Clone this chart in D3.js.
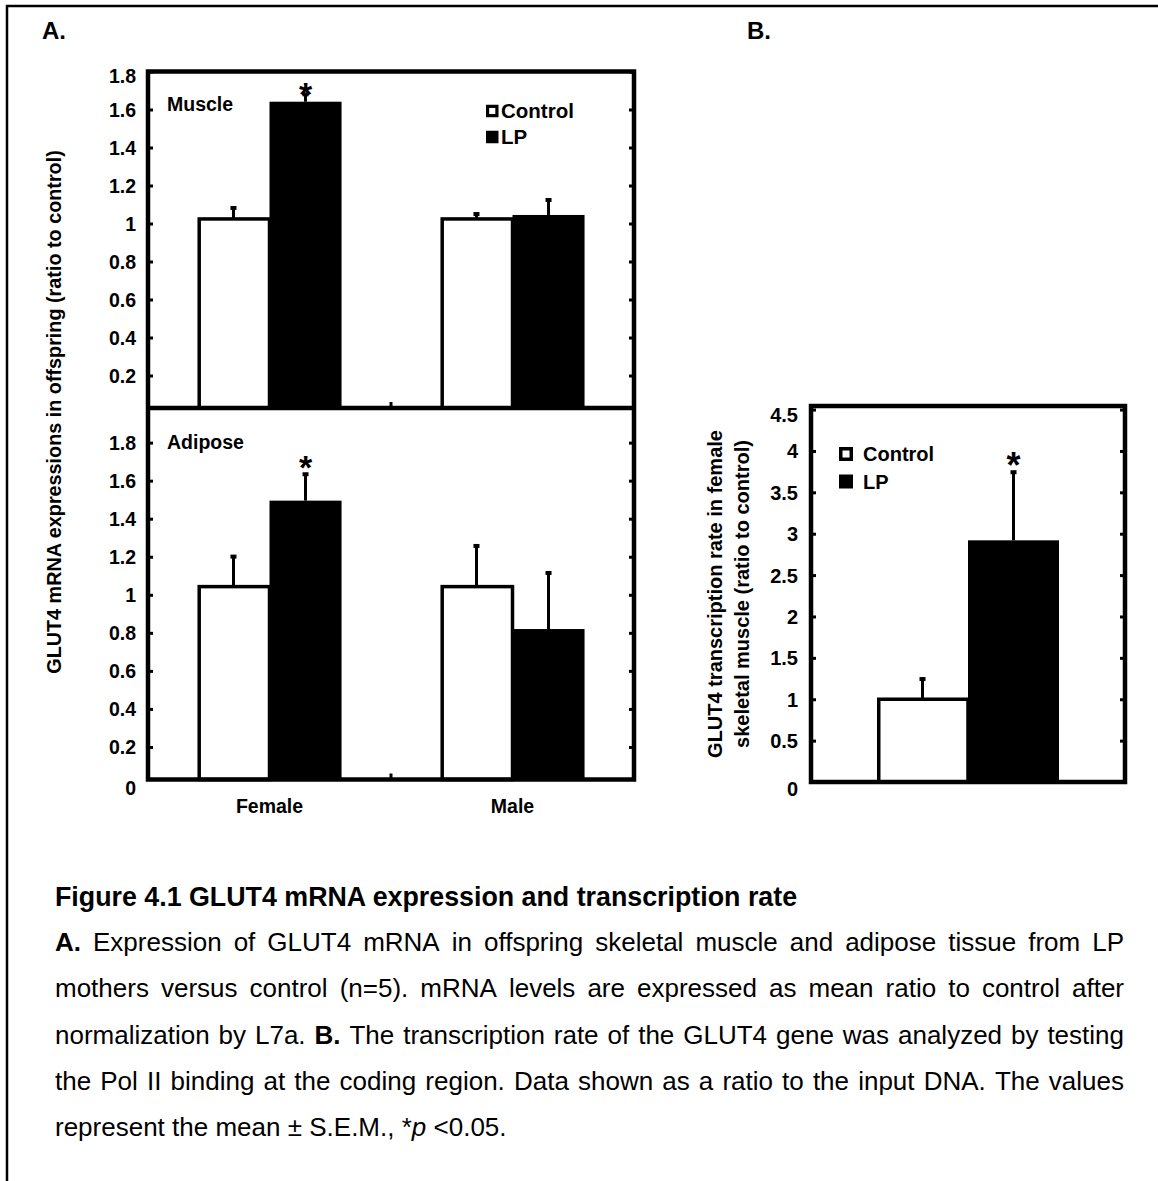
<!DOCTYPE html>
<html><head><meta charset="utf-8">
<script src="https://cdn.jsdelivr.net/npm/d3@7"></script>
<style>
body{margin:0;background:#fff}
svg{display:block}
text{font-family:"Liberation Sans",Arial,Helvetica,sans-serif;fill:#000}
</style>
</head><body>
<svg id="c" width="1158" height="1181"></svg>
<script>
// ---------------- DATA ----------------
const categories = ["Female", "Male"];
const groups = ["Control", "LP"];

const muscleControl = [1.024, 1.024];
const muscleControlSem = [0.063, 0.031];
const muscleLP = [1.641, 1.045];
const muscleLPSem = [0.044, 0.084];
const muscleSig = [true, false];

const adiposeControl = [1.043, 1.043];
const adiposeControlSem = [0.163, 0.219];
const adiposeLP = [1.495, 0.82];
const adiposeLPSem = [0.144, 0.30];
const adiposeSig = [true, false];

const muscleTicks = [0.2, 0.4, 0.6, 0.8, 1, 1.2, 1.4, 1.6, 1.8];
const adiposeTicks = [0, 0.2, 0.4, 0.6, 0.8, 1, 1.2, 1.4, 1.6, 1.8];

const bCategories = ["Female skeletal muscle"];
const bControl = [1.0];
const bControlSem = [0.256];
const bLP = [2.92];
const bLPSem = [0.835];
const bSig = [true];
const bTicks = [0, 0.5, 1, 1.5, 2, 2.5, 3, 3.5, 4, 4.5];

const yTitleA = "GLUT4 mRNA expressions in offspring (ratio to control)";
const yTitleB = ["GLUT4 transcription rate in female", "skeletal muscle (ratio to control)"];
const panelLabels = ["A.", "B."];
const subLabels = ["Muscle", "Adipose"];

const captionTitle = "Figure 4.1 GLUT4 mRNA expression and transcription rate";
const captionLines = [
  "<b>A.</b> Expression of GLUT4 mRNA in offspring skeletal muscle and adipose tissue from LP",
  "mothers versus control (n=5). mRNA levels are expressed as mean ratio to control after",
  "normalization by L7a. <b>B.</b> The transcription rate of the GLUT4 gene was analyzed by testing",
  "the Pol II binding at the coding region. Data shown as a ratio to the input DNA. The values",
  "represent the mean ± S.E.M., *<i>p</i> <0.05."
];

// ---------------- DRAW ----------------
const svg = d3.select("#c");
svg.append("rect").attr("width", 1158).attr("height", 1181).attr("fill", "#fff");

// outer page frame (top and left)
svg.append("path").attr("d", "M7,1181V6H1158").attr("fill", "none")
  .attr("stroke", "#000").attr("stroke-width", 2.5);

// panel letters
svg.append("text").attr("x", 42).attr("y", 39).attr("font-size", 24).attr("font-weight", "bold").text(panelLabels[0]);
svg.append("text").attr("x", 747).attr("y", 39).attr("font-size", 24).attr("font-weight", "bold").text(panelLabels[1]);

const FS = 19.5;
const A = {x0: 148, x1: 634, top: 71.5, mid: 408, bottom: 779.5};

const xA = d3.scaleBand().domain(categories).range([A.x0, A.x1]).paddingInner(0.407).paddingOuter(0.2035);
const xgA = d3.scaleBand().domain(groups).range([0, xA.bandwidth()]);

const yMuscle = d3.scaleLinear().domain([0.029, 1.8]).range([A.mid, A.top]).clamp(true);
const yAdipose = d3.scaleLinear().domain([0.029, 1.982]).range([A.bottom, A.mid]).clamp(true);

function drawBars(g, xs, xg, cats, y, ctrl, ctrlSem, lp, lpSem, sig, topLimit, starFs) {
  const base = y.range()[0];
  const rows = cats.map((c, i) => [
    {cat: c, grp: "Control", v: ctrl[i], s: ctrlSem[i]},
    {cat: c, grp: "LP", v: lp[i], s: lpSem[i], sig: sig[i]}
  ]).flat();
  g.selectAll(null).data(rows).enter().append("rect")
    .attr("x", d => xs(d.cat) + xg(d.grp) + (d.grp === "Control" ? 1.75 : 0))
    .attr("width", d => xg.bandwidth() - (d.grp === "Control" ? 1.75 : 0))
    .attr("y", d => y(d.v))
    .attr("height", d => base - y(d.v))
    .attr("fill", d => d.grp === "Control" ? "#fff" : "#000")
    .attr("stroke", "#000").attr("stroke-width", d => d.grp === "Control" ? 3.5 : 0);
  const cx = d => xs(d.cat) + xg(d.grp) + xg.bandwidth() / 2;
  g.selectAll(null).data(rows).enter().append("line")
    .attr("x1", cx).attr("x2", cx)
    .attr("y1", d => y(d.v)).attr("y2", d => y(d.v + d.s))
    .attr("stroke", "#000").attr("stroke-width", 3);
  g.selectAll(null).data(rows).enter().append("rect")
    .attr("x", d => cx(d) - 3).attr("width", 6)
    .attr("y", d => y(d.v + d.s) - 1).attr("height", 4)
    .attr("fill", "#000");
  g.selectAll(null).data(rows.filter(d => d.sig)).enter().append("text")
    .attr("x", cx)
    .attr("y", d => Math.max(y(d.v + d.s) - 14, topLimit + 15) + starFs * 0.57)
    .attr("text-anchor", "middle").attr("font-size", starFs).attr("font-weight", "bold")
    .text("*");
}

const gA = svg.append("g");
drawBars(gA, xA, xgA, categories, yMuscle, muscleControl, muscleControlSem, muscleLP, muscleLPSem, muscleSig, A.top, 34);
drawBars(gA, xA, xgA, categories, yAdipose, adiposeControl, adiposeControlSem, adiposeLP, adiposeLPSem, adiposeSig, A.mid, 34);

function styleAxis(sel, fs, shiftFn) {
  sel.select(".domain").remove();
  sel.selectAll(".tick line").attr("stroke", "#000").attr("stroke-width", 3);
  sel.selectAll(".tick text").attr("font-size", fs).attr("font-weight", "bold")
    .attr("font-family", '"Liberation Sans",Arial,sans-serif').attr("fill", "#000")
    .attr("dy", d => (0.35 * fs + shiftFn(d)) + "px");
}
const axMuscle = gA.append("g").attr("transform", `translate(${A.x0},0)`)
  .call(d3.axisLeft(yMuscle).tickValues(muscleTicks).tickSizeInner(-5).tickSizeOuter(0).tickPadding(12).tickFormat(d => String(d)));
styleAxis(axMuscle, FS, d => d === 1.8 ? 4 : 0);
const axAdipose = gA.append("g").attr("transform", `translate(${A.x0},0)`)
  .call(d3.axisLeft(yAdipose).tickValues(adiposeTicks).tickSizeInner(-5).tickSizeOuter(0).tickPadding(12).tickFormat(d => String(d)));
styleAxis(axAdipose, FS, d => d === 0 ? 8.5 : 0);
axAdipose.selectAll(".tick line").filter(d => d === 0).remove();

gA.append("g").attr("transform", `translate(${A.x1},0)`)
  .call(d3.axisRight(yMuscle).tickValues(muscleTicks).tickSizeInner(-5).tickSizeOuter(0).tickFormat(""))
  .call(s => { s.select(".domain").remove(); s.selectAll(".tick line").attr("stroke-width", 3); });
gA.append("g").attr("transform", `translate(${A.x1},0)`)
  .call(d3.axisRight(yAdipose).tickValues(adiposeTicks.filter(d => d > 0)).tickSizeInner(-5).tickSizeOuter(0).tickFormat(""))
  .call(s => { s.select(".domain").remove(); s.selectAll(".tick line").attr("stroke-width", 3); });

const sepX = (xA(categories[0]) + xA.bandwidth() + xA(categories[1])) / 2;
[A.mid, A.bottom].forEach(yy => {
  gA.append("line").attr("x1", sepX).attr("x2", sepX).attr("y1", yy).attr("y2", yy - 6)
    .attr("stroke", "#000").attr("stroke-width", 3);
});

gA.append("rect").attr("x", A.x0).attr("y", A.top).attr("width", A.x1 - A.x0).attr("height", A.bottom - A.top)
  .attr("fill", "none").attr("stroke", "#000").attr("stroke-width", 4.5);
gA.append("line").attr("x1", A.x0).attr("x2", A.x1).attr("y1", A.mid).attr("y2", A.mid)
  .attr("stroke", "#000").attr("stroke-width", 4.5);

gA.selectAll(null).data(categories).enter().append("text")
  .attr("x", d => xA(d) + xA.bandwidth() / 2).attr("y", 813)
  .attr("text-anchor", "middle").attr("font-size", FS).attr("font-weight", "bold").text(d => d);

gA.append("text").attr("x", 167).attr("y", 111).attr("font-size", FS).attr("font-weight", "bold").text(subLabels[0]);
gA.append("text").attr("x", 167).attr("y", 449).attr("font-size", FS).attr("font-weight", "bold").text(subLabels[1]);

function legend(g, x, ys, size, fs, tx, sw) {
  groups.forEach((grp, i) => {
    if (grp === "Control") {
      g.append("rect").attr("x", x + sw / 2).attr("y", ys[i] - size / 2 + sw / 2)
        .attr("width", size - sw).attr("height", size - sw)
        .attr("fill", "#fff").attr("stroke", "#000").attr("stroke-width", sw);
    } else {
      g.append("rect").attr("x", x).attr("y", ys[i] - size / 2).attr("width", size).attr("height", size).attr("fill", "#000");
    }
    g.append("text").attr("x", tx).attr("y", ys[i]).attr("dy", "0.36em")
      .attr("font-size", fs).attr("font-weight", "bold").text(grp);
  });
}
legend(gA, 486, [111, 137], 12.5, 20.5, 501, 3.2);

gA.append("text").attr("transform", "translate(61,412) rotate(-90)")
  .attr("text-anchor", "middle").attr("font-size", 19.8).attr("font-weight", "bold").text(yTitleA);

// ---------- Panel B ----------
const B = {x0: 811, x1: 1125, top: 406, bottom: 782};
const FSB = 20;
const xB = d3.scaleBand().domain(bCategories).range([B.x0, B.x1]).paddingInner(0).paddingOuter(0.3626);
const xgB = d3.scaleBand().domain(groups).range([0, xB.bandwidth()]);
const yB = d3.scaleLinear().domain([0, 4.543]).range([B.bottom, B.top]);
const gB = svg.append("g");
drawBars(gB, xB, xgB, bCategories, yB, bControl, bControlSem, bLP, bLPSem, bSig, B.top, 36);

const axB = gB.append("g").attr("transform", `translate(${B.x0},0)`)
  .call(d3.axisLeft(yB).tickValues(bTicks).tickSizeInner(-5).tickSizeOuter(0).tickPadding(13).tickFormat(d => String(d)));
styleAxis(axB, FSB, d => d === 0 ? 6 : d === 4.5 ? 5 : 0);
axB.selectAll(".tick line").filter(d => d === 0).remove();
gB.append("g").attr("transform", `translate(${B.x1},0)`)
  .call(d3.axisRight(yB).tickValues(bTicks.filter(d => d > 0)).tickSizeInner(-5).tickSizeOuter(0).tickFormat(""))
  .call(s => { s.select(".domain").remove(); s.selectAll(".tick line").attr("stroke-width", 3); });

gB.append("rect").attr("x", B.x0).attr("y", B.top).attr("width", B.x1 - B.x0).attr("height", B.bottom - B.top)
  .attr("fill", "none").attr("stroke", "#000").attr("stroke-width", 4.5);

legend(gB, 839, [454, 481.5], 14, FSB, 863, 3.5);

yTitleB.forEach((t, i) => {
  gB.append("text").attr("transform", `translate(${722 + i * 27},594) rotate(-90)`)
    .attr("text-anchor", "middle").attr("font-size", FSB).attr("font-weight", "bold").text(t);
});

// ---------- Caption ----------
const capX0 = 55, capX1 = 1124, capFS = 26, lineGap = 46.3;
svg.append("text").attr("x", capX0).attr("y", 906).attr("font-size", 26.8).attr("font-weight", "bold").text(captionTitle);

captionLines.forEach((line, i) => {
  const words = line.split(" ");
  const yy = 951 + i * lineGap;
  const g = svg.append("g");
  const nodes = words.map(w => {
    const t = g.append("text").attr("y", yy).attr("font-size", capFS);
    const re = /<(b|i)>(.*?)<\/\1>/g;
    let last = 0, m;
    while ((m = re.exec(w))) {
      if (m.index > last) t.append("tspan").text(w.slice(last, m.index));
      const sp = t.append("tspan").text(m[2]);
      if (m[1] === "b") sp.attr("font-weight", "bold"); else sp.attr("font-style", "italic");
      last = re.lastIndex;
    }
    if (last < w.length) t.append("tspan").text(w.slice(last));
    return t;
  });
  const widths = nodes.map(n => n.node().getComputedTextLength());
  const total = d3.sum(widths);
  const justify = i < captionLines.length - 1;
  const gap = justify ? (capX1 - capX0 - total) / (words.length - 1) : capFS * 0.278;
  let x = capX0;
  nodes.forEach((n, j) => { n.attr("x", x); x += widths[j] + gap; });
});
</script>
</body></html>
